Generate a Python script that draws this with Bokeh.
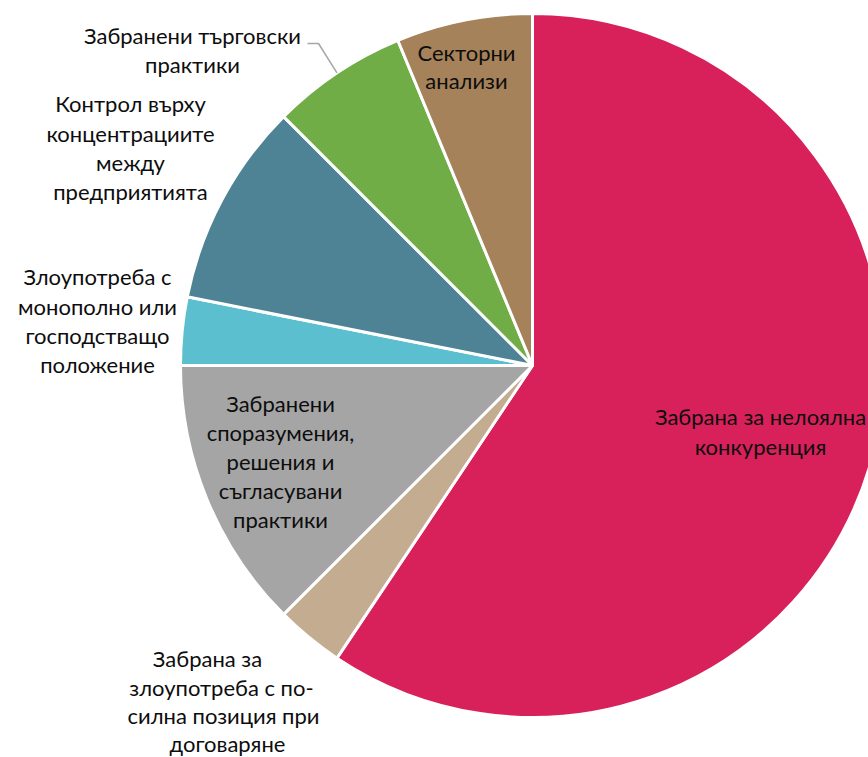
import math
from bokeh.plotting import figure
from bokeh.models import Range1d, ColumnDataSource
from bokeh.core.properties import value
from bokeh.embed import file_html
from bokeh.resources import INLINE

# ---- data ----
categories = [
    "Забрана за нелоялна конкуренция",
    "Забрана за злоупотреба с по-силна позиция при договаряне",
    "Забранени споразумения, решения и съгласувани практики",
    "Злоупотреба с монополно или господстващо положение",
    "Контрол върху концентрациите между предприятията",
    "Забранени търговски практики",
    "Секторни анализи",
]
counts = [19, 1, 4, 1, 3, 2, 2]
colors = ["#D8215B", "#C4AC90", "#A5A5A5", "#5BBFCF", "#4E8396", "#70AD47", "#A5825A"]

label_lines = [
    ["Забрана за нелоялна", "конкуренция"],
    ["Забрана за", "злоупотреба с по-", "силна позиция при", "договаряне"],
    ["Забранени", "споразумения,", "решения и", "съгласувани", "практики"],
    ["Злоупотреба с", "монополно или", "господстващо", "положение"],
    ["Контрол върху", "концентрациите", "между", "предприятията"],
    ["Забранени търговски", "практики"],
    ["Секторни", "анализи"],
]

# ---- layout (pixel-based coordinate system centred on the pie) ----
W, H = 868, 757
CX, CY = 532, 365          # pie centre in page pixels
R = 352
label_pos = [              # page-pixel positions of each label line
    [(760, 416), (760, 446)],
    [(207, 658), (221, 687), (223, 715), (227, 743)],
    [(280, 403), (280, 432), (280, 461), (280, 490), (280, 519)],
    [(97, 276), (97, 306), (97, 335), (97, 364)],
    [(130, 103), (130, 133), (130, 162), (130, 191)],
    [(192, 35), (192, 64)],
    [(466, 52), (466, 80)],
]

def px(x):
    return x - CX

def py(y):
    return CY - y

p = figure(width=W, height=H, output_backend="svg", toolbar_location=None,
           x_range=Range1d(px(0), px(W)), y_range=Range1d(py(H), py(0)),
           x_axis_type=None, y_axis_type=None, min_border=0,
           background_fill_color="white", border_fill_color="white")
p.outline_line_color = None
p.grid.visible = False

total = sum(counts)
starts, ends = [], []
acc = 0.0
for c in counts:
    t0 = acc / total * 360.0
    acc += c
    t1 = acc / total * 360.0
    starts.append(math.radians(90 - t1))
    ends.append(math.radians(90 - t0))

src = ColumnDataSource(dict(x=[0] * len(counts), y=[0] * len(counts),
                            start=starts, end=ends, color=colors, cat=categories))
p.wedge(x="x", y="y", radius=R, start_angle="start", end_angle="end",
        fill_color="color", line_color="white", line_width=3, source=src)

# leader line for "Забранени търговски практики"
gi = 5
mid = (starts[gi] + ends[gi]) / 2
ex, ey = R * math.cos(mid), R * math.sin(mid)
p.line(x=[px(307), px(318), ex], y=[py(43), py(43), ey], line_color="#A6A6A6", line_width=1.5)

tx, ty, tt = [], [], []
for lines, pos in zip(label_lines, label_pos):
    for s, (x, y) in zip(lines, pos):
        tx.append(px(x)); ty.append(py(y)); tt.append(s)
p.text(x=tx, y=ty, text=tt, text_align="center", text_baseline="middle",
       text_font=value("Lato"), text_font_size="22px", text_color="#0D0D0D")

open("out.html", "w").write(file_html(p, INLINE))
